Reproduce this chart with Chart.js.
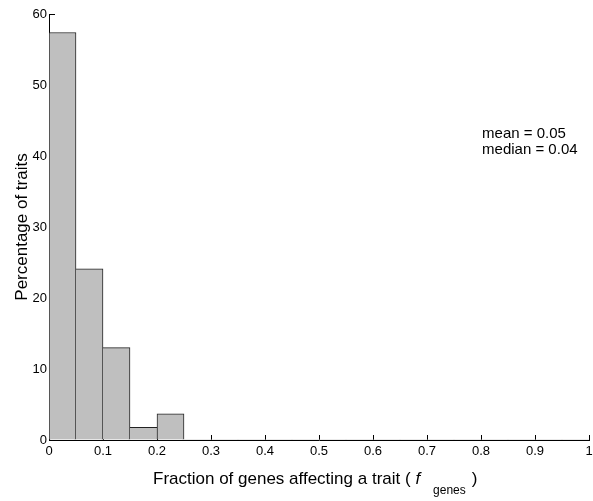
<!DOCTYPE html>
<html>
<head>
<meta charset="utf-8">
<script src="https://cdn.jsdelivr.net/npm/chart.js@4.4.1/dist/chart.umd.min.js"></script>
<style>
  html, body { margin: 0; padding: 0; background: #fff; }
  canvas { display: block; }
</style>
</head>
<body>
<canvas id="hist" width="593" height="501"></canvas>
<script>
'use strict';

// ── Data: histogram bins (centers of 0.05-wide bins) ──
const binCenters = [0.025, 0.075, 0.125, 0.175, 0.225, 0.275, 0.325, 0.375, 0.425, 0.475,
                    0.525, 0.575, 0.625, 0.675, 0.725, 0.775, 0.825, 0.875, 0.925, 0.975];
const percentTraits = [57.4, 24.1, 13.0, 1.8, 3.7, 0, 0, 0, 0, 0,
                       0, 0, 0, 0, 0, 0, 0, 0, 0, 0];
const xTicks = [0, 0.1, 0.2, 0.3, 0.4, 0.5, 0.6, 0.7, 0.8, 0.9, 1];
const yTicks = [0, 10, 20, 30, 40, 50, 60];
const statsLines = ['mean = 0.05', 'median = 0.04'];

const FONT = '"Liberation Sans", Arial, Helvetica, sans-serif';

// Each shared edge is drawn once, by the taller neighbour
function edgeWidths(ctx) {
  const i = ctx.dataIndex;
  const v = percentTraits[i];
  if (!v) return 0;
  const prev = i > 0 ? percentTraits[i - 1] : -1;
  const next = i < percentTraits.length - 1 ? percentTraits[i + 1] : -1;
  return { top: 1, bottom: 0, left: prev <= v ? 1 : 0, right: next < v ? 1 : 0 };
}

// Inward tick marks, drawn under the bars
const inwardTicks = {
  id: 'inwardTicks',
  beforeDatasetsDraw(chart) {
    const { ctx, chartArea, scales } = chart;
    ctx.save();
    ctx.strokeStyle = '#000';
    ctx.lineWidth = 1;
    ctx.beginPath();
    for (const t of xTicks) {
      const px = Math.round(scales.x.getPixelForValue(t)) + 0.5;
      ctx.moveTo(px, chartArea.bottom);
      ctx.lineTo(px, chartArea.bottom - 5);
    }
    for (const t of yTicks) {
      const py = Math.round(scales.y.getPixelForValue(t)) + 0.5;
      ctx.moveTo(chartArea.left, py);
      ctx.lineTo(chartArea.left + 6, py);
    }
    ctx.stroke();
    ctx.restore();
  }
};

// x title with italic f and subscript, plus the stats note
const textOverlay = {
  id: 'textOverlay',
  afterDraw(chart) {
    const { ctx, chartArea, scales } = chart;
    ctx.save();
    ctx.fillStyle = '#000';
    ctx.textBaseline = 'alphabetic';
    ctx.textAlign = 'left';

    const main = 'Fraction of genes affecting a trait ( ';
    const big = '17px ' + FONT;
    const ital = 'italic 17px ' + FONT;
    const small = '12px ' + FONT;
    const base = 484;
    let x = chartArea.left + 104;
    ctx.font = big;
    ctx.fillText(main, x, base);
    x += ctx.measureText(main).width;
    ctx.font = ital;
    ctx.fillText('f', x, base);
    x += ctx.measureText('f').width + 13;
    ctx.font = small;
    ctx.fillText('genes', x, base + 10);
    x += ctx.measureText('genes').width + 6;
    ctx.font = big;
    ctx.fillText(')', x, base);

    // stats note
    ctx.font = '15px ' + FONT;
    const nx = scales.x.getPixelForValue(0.802);
    statsLines.forEach((line, k) => ctx.fillText(line, nx, 138 + k * 16));
    ctx.restore();
  }
};

new Chart(document.getElementById('hist'), {
  type: 'bar',
  plugins: [inwardTicks, textOverlay],
  data: {
    datasets: [{
      data: binCenters.map((c, i) => ({ x: c, y: percentTraits[i] })),
      backgroundColor: '#bfbfbf',
      borderColor: '#222',
      borderWidth: edgeWidths,
      borderSkipped: false,
      barPercentage: 1,
      categoryPercentage: 1,
    }]
  },
  options: {
    responsive: false,
    animation: false,
    devicePixelRatio: 1,
    layout: { padding: { top: 14, right: 0, left: 0, bottom: 0 } },
    plugins: {
      legend: { display: false },
      tooltip: { enabled: false },
    },
    scales: {
      x: {
        type: 'linear',
        min: 0,
        max: 1,
        offset: false,
        afterBuildTicks(scale) { scale.ticks = xTicks.map(v => ({ value: v })); },
        afterFit(scale) {
          scale.height = 61;
          scale.paddingLeft = 0;
          scale.paddingRight = 4;
        },
        grid: { display: true, drawOnChartArea: false, drawTicks: false, offset: false },
        border: { display: true, color: '#000', width: 1 },
        ticks: {
          padding: 4,
          color: '#000',
          font: { family: FONT, size: 13 },
          maxRotation: 0,
          autoSkip: false,
          callback: v => String(v),
        },
      },
      y: {
        min: 0,
        max: 60,
        afterBuildTicks(scale) { scale.ticks = yTicks.map(v => ({ value: v })); },
        afterFit(scale) { scale.width = 49; },
        grid: { display: true, drawOnChartArea: false, drawTicks: false },
        border: { display: true, color: '#000', width: 1 },
        title: {
          display: true,
          text: 'Percentage of traits',
          color: '#000',
          font: { family: FONT, size: 17 },
          padding: { top: 12, bottom: 0 },
        },
        ticks: {
          padding: 2,
          color: '#000',
          font: { family: FONT, size: 13 },
          callback: v => String(v),
        },
      },
    },
  },
});
</script>
</body>
</html>
